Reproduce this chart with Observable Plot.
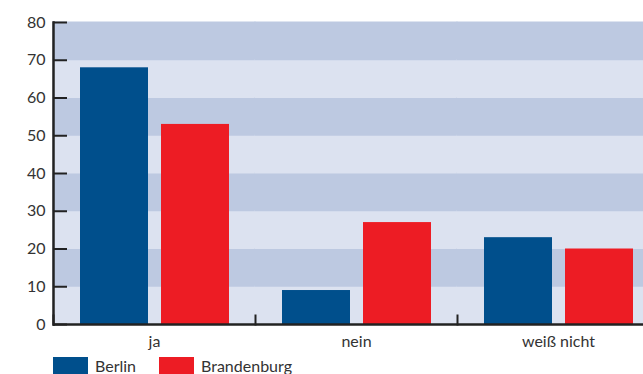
<!DOCTYPE html>
<html><head><meta charset="utf-8">
<script src="https://cdn.jsdelivr.net/npm/d3@7"></script>
<script src="https://cdn.jsdelivr.net/npm/@observablehq/plot@0.6"></script>
<style>
html,body{margin:0;padding:0;background:#fff;overflow:hidden;width:643px;height:374px}
#chart{width:643px;height:356px;overflow:hidden}
#chart svg{max-width:none !important}
.legend{display:flex;align-items:flex-start;font:16px/17px Lato, sans-serif;color:#333;margin-left:53px;margin-top:1px;height:18px}
.legend span.sw{display:inline-block;width:35px;height:17px;margin-right:7px}
.legend .item{display:flex;align-items:flex-start;margin-right:23px}
.legend .lbl{position:relative;top:0px}
</style></head>
<body>
<div id="chart"></div>
<div class="legend" id="legend"></div>
<script>
const categories = ["ja", "nein", "weiß nicht"];
const series = ["Berlin", "Brandenburg"];
const berlin = [68, 9, 23];
const brandenburg = [53, 27, 20];
const yTicks = [0, 10, 20, 30, 40, 50, 60, 70, 80];

const colors = ["#004f8c", "#ed1c24"];
const bandDark = "#bdc9e1", bandLight = "#dce2f0";

const rows = [];
categories.forEach((c, i) => {
  rows.push({cat: c, series: series[0], value: berlin[i]});
  rows.push({cat: c, series: series[1], value: brandenburg[i]});
});
const bands = yTicks.slice(0, -1).map((t, i) => ({y1: t, y2: yTicks[i + 1], i}));

const W = 659, H = 356, mT = 22, mB = 32, mL = 53, mR = 0;
const plot = Plot.plot({
  width: W, height: H,
  marginTop: mT, marginBottom: mB, marginLeft: mL, marginRight: mR,
  style: {fontFamily: "Lato, sans-serif", fontSize: "16px", color: "#333", background: "transparent", maxWidth: "none"},
  fx: {domain: categories, padding: 0, label: null},
  x: {domain: series, paddingInner: 13/81, paddingOuter: 26/81, axis: null},
  y: {domain: [0, 80], label: null},
  color: {domain: series, range: colors},
  marks: [
    Plot.rect(bands, {y1: "y1", y2: "y2", fill: d => d.i % 2 ? bandDark : bandLight, inset: -0.5}),
    Plot.barY(rows, {fx: "cat", x: "series", y: "value", fill: "series"}),
    Plot.ruleY([0], {stroke: "#222", strokeWidth: 2.5}),
    Plot.frame({anchor: "left", stroke: "#222", strokeWidth: 2.5, facetAnchor: "left"}),
    Plot.frame({anchor: "left", stroke: "#222", strokeWidth: 2, insetTop: H - mT - mB - 9}),
    Plot.axisY(yTicks, {anchor: "left", tickSize: 0, tickPadding: 8, fontSize: 16, fill: "#333"}),
    Plot.axisY(yTicks, {anchor: "left", tickSize: -14, tickFormat: () => "", stroke: "#222", strokeWidth: 2}),
    Plot.axisFx({anchor: "bottom", tickSize: 0, tickPadding: 11, fontSize: 16, fill: "#333", label: null})
  ]
});
document.getElementById("chart").appendChild(plot);

const leg = document.getElementById("legend");
series.forEach((s, i) => {
  const it = document.createElement("div");
  it.className = "item";
  it.innerHTML = `<span class="sw" style="background:${colors[i]}"></span><span class="lbl">${s}</span>`;
  leg.appendChild(it);
});
</script>
</body></html>
